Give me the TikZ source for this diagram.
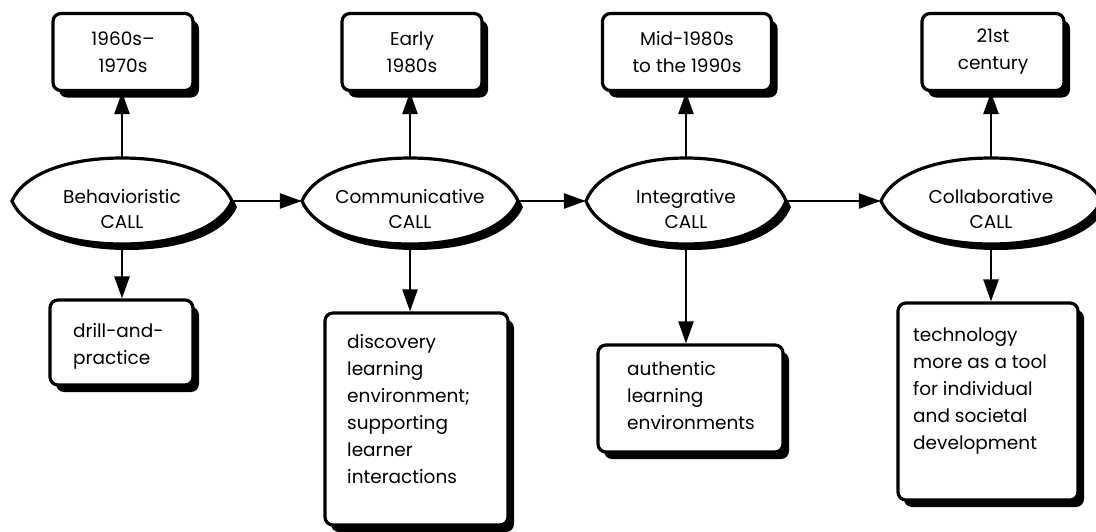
\documentclass[tikz,border=0pt]{standalone}
\usepackage{fontspec}
\setmainfont{Poppins}
\usetikzlibrary{arrows.meta,shadows,calc,shapes.geometric}
\newcommand{\lenspath}[4]{({#1-#3},#2) .. controls ({#1-0.9*#3},{#2-0.6*#4}) and ({#1-0.52*#3},{#2-#4}) .. (#1,{#2-#4}) .. controls ({#1+0.52*#3},{#2-#4}) and ({#1+0.9*#3},{#2-0.6*#4}) .. ({#1+#3},#2) .. controls ({#1+0.9*#3},{#2+0.6*#4}) and ({#1+0.52*#3},{#2+#4}) .. (#1,{#2+#4}) .. controls ({#1-0.52*#3},{#2+#4}) and ({#1-0.9*#3},{#2+0.6*#4}) .. cycle}
\newcommand{\lens}[4]{%
  \fill[black,xshift=5pt,yshift=-6pt] \lenspath{#1}{#2}{#3}{#4};
  \filldraw[fill=white,draw=black,line width=3.2pt] \lenspath{#1}{#2}{#3}{#4};}
\begin{document}
\begin{tikzpicture}[x=1pt,y=-1pt,
  txt/.style={font=\fontsize{18.5}{27}\selectfont, inner sep=0pt},
  elltxt/.style={font=\fontsize{18.5}{25}\selectfont, inner sep=0pt, align=center},
  box/.style={draw=black, line width=3.2pt, rounded corners=8pt, fill=white, inner sep=0pt,
     general shadow={fill=black, shadow xshift=6pt, shadow yshift=-7pt}},
  topbox/.style={box, txt, align=center, minimum height=77pt},
  anchorell/.style={ellipse, draw=none, inner sep=0pt},
  arr/.style={line width=2.6pt, -{Triangle[length=22pt,width=15pt]}}]
\useasboundingbox (0,0) rectangle (1096,531);
% lens-shaped stages
\lens{122}{201}{110}{43}
\lens{410}{201}{108}{43}
\lens{686}{201}{100}{43}
\lens{991}{201}{110}{43}
\node[anchorell, minimum width=220pt, minimum height=86pt] (e1) at (122,201) {};
\node[anchorell, minimum width=216pt, minimum height=86pt] (e2) at (410,201) {};
\node[anchorell, minimum width=200pt, minimum height=86pt] (e3) at (686,201) {};
\node[anchorell, minimum width=220pt, minimum height=86pt] (e4) at (991,201) {};
\node[elltxt] (l1) at (122,209) {Behavioristic\\CALL};
\node[elltxt] (l2) at (410,209) {Communicative\\CALL};
\node[elltxt] (l3) at (686,209) {Integrative\\CALL};
\node[elltxt] (l4) at (991,209) {Collaborative\\CALL};
% top boxes
\node[topbox, minimum width=140pt] (t1) at (123,52) {1960s–\\1970s};
\node[topbox, minimum width=140pt] (t2) at (412,52) {Early\\1980s};
\node[topbox, minimum width=169pt] (t3) at (687,52) {Mid-1980s\\to the 1990s};
\node[topbox, minimum width=142pt] (t4) at (993,52) {21st\\century};
% bottom boxes
\node[box, minimum width=143pt, minimum height=85pt] (b1) at (121.5,342.5) {};
\node[box, minimum width=183pt, minimum height=212pt] (b2) at (416.5,419) {};
\node[box, minimum width=185pt, minimum height=107pt] (b3) at (690.5,398.5) {};
\node[box, minimum width=180pt, minimum height=197pt] (b4) at (988,401.5) {};
\node[txt, align=left, anchor=north west] (d1) at (73,323) {drill-and-\\practice};
\node[txt, align=left, anchor=north west] (d2) at (347,334) {discovery\\learning\\environment;\\supporting\\learner\\interactions};
\node[txt, align=left, anchor=north west] (d3) at (627,361) {authentic\\learning\\environments};
\node[txt, align=left, anchor=north west] (d4) at (913,328) {technology\\more as a tool\\for individual\\and societal\\development};
% connectors
\draw[arr] (e1.east) -- (e2.west);
\draw[arr] (e2.east) -- (e3.west);
\draw[arr] (e3.east) -- (e4.west);
\draw[arr] (e1.north) -- (t1.south -| e1.north);
\draw[arr] (e2.north) -- (t2.south -| e2.north);
\draw[arr] (e3.north) -- (t3.south -| e3.north);
\draw[arr] (e4.north) -- (t4.south -| e4.north);
\draw[arr] (e1.south) -- (b1.north -| e1.south);
\draw[arr] (e2.south) -- (b2.north -| e2.south);
\draw[arr] (e3.south) -- (b3.north -| e3.south);
\draw[arr] (e4.south) -- (b4.north -| e4.south);
\end{tikzpicture}
\end{document}
